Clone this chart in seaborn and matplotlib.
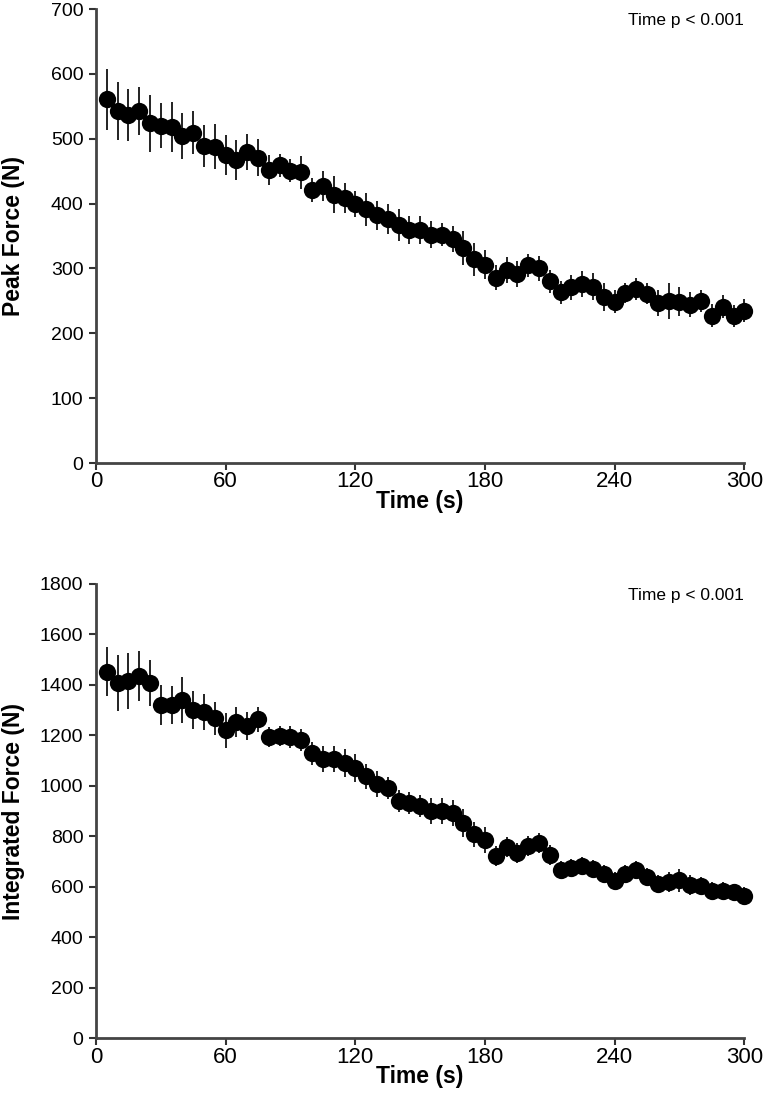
import matplotlib
matplotlib.use("Agg")
import matplotlib.pyplot as plt
import numpy as np
import pandas as pd
import seaborn as sns

# time points (s)
time_s = list(range(5, 305, 5))

# Peak force (N), mean and error
peak_force = [561, 543, 536, 543, 524, 520, 518, 504, 509, 489,
              488, 475, 467, 480, 471, 452, 459, 451, 448, 421,
              427, 414, 408, 400, 391, 382, 376, 367, 359, 359,
              352, 352, 345, 331, 314, 306, 286, 297, 292, 305,
              300, 280, 263, 271, 276, 272, 256, 249, 262, 268,
              261, 247, 250, 249, 244, 250, 227, 241, 226, 235]
peak_err = [47, 45, 40, 37, 44, 35, 38, 36, 33, 32,
            34, 31, 31, 28, 28, 23, 18, 17, 25, 18,
            23, 29, 23, 20, 26, 22, 23, 24, 22, 22,
            21, 18, 20, 26, 25, 23, 19, 20, 20, 18,
            19, 18, 18, 19, 20, 21, 22, 18, 15, 17,
            16, 20, 28, 23, 19, 17, 18, 18, 17, 18]

# Integrated force (N), mean and error
int_force = [1451, 1407, 1415, 1434, 1407, 1320, 1320, 1340, 1300, 1292,
             1268, 1220, 1252, 1236, 1264, 1193, 1197, 1193, 1181, 1129,
             1106, 1106, 1090, 1070, 1038, 1007, 991, 940, 932, 920,
             900, 900, 892, 852, 808, 785, 721, 757, 733, 760,
             773, 725, 666, 674, 682, 670, 650, 622, 650, 666,
             638, 610, 618, 626, 606, 602, 582, 582, 578, 563]
int_err = [97, 110, 110, 100, 90, 80, 75, 90, 75, 70,
           65, 70, 60, 55, 50, 40, 40, 45, 45, 45,
           50, 50, 55, 55, 50, 50, 45, 45, 45, 45,
           50, 50, 50, 55, 50, 50, 40, 40, 40, 40,
           40, 40, 35, 35, 35, 35, 35, 35, 35, 35,
           35, 35, 40, 45, 40, 35, 35, 35, 35, 35]

x_ticks = [0, 60, 120, 180, 240, 300]
annot_text = "Time p < 0.001"

sns.set_theme(style="ticks")
plt.rcParams["font.family"] = ["Liberation Sans", "DejaVu Sans"]

fig = plt.figure(figsize=(7.63, 11.12), dpi=100)
ax_top = fig.add_axes([0.1258, 0.5836, 0.8497, 0.4083])
ax_bot = fig.add_axes([0.1258, 0.0663, 0.8497, 0.4087])

panels = [
    (ax_top, peak_force, peak_err, "Peak Force (N)", (0, 700), 100),
    (ax_bot, int_force, int_err, "Integrated Force (N)", (0, 1800), 200),
]

for ax, vals, errs, ylab, ylim, step in panels:
    df = pd.DataFrame({"time": time_s, "force": vals, "err": errs})
    ax.errorbar(df["time"], df["force"], yerr=df["err"], fmt="none",
                ecolor="#111111", elinewidth=1.3, capsize=0, zorder=2, clip_on=False)
    sns.scatterplot(data=df, x="time", y="force", ax=ax, color="black", s=155,
                    edgecolor="black", linewidth=0, zorder=3, clip_on=False)
    ax.set_xlim(0, 300)
    ax.set_ylim(*ylim)
    ax.set_xticks(x_ticks)
    ax.set_yticks(np.arange(ylim[0], ylim[1] + 1, step))
    ax.set_xlabel("Time (s)", fontsize=16.5, fontweight="bold", color="black",
                  family=["Liberation Sans Narrow", "Liberation Sans"], labelpad=-2)
    ax.set_ylabel(ylab, fontsize=16.5, fontweight="bold", color="black")
    ax.yaxis.set_label_coords(-0.11, 0.5)
    for lab in ax.get_xticklabels():
        lab.set_family(["Liberation Sans Narrow", "Liberation Sans"])
        lab.set_fontsize(16)
    for lab in ax.get_yticklabels():
        lab.set_fontsize(14)
    ax.tick_params(axis="both", direction="out", length=5, width=1.5, colors="#333333",
                   labelcolor="black", pad=4)
    ax.tick_params(axis="x", pad=1)
    for side in ["top", "right"]:
        ax.spines[side].set_visible(False)
    for side in ["left", "bottom"]:
        ax.spines[side].set_linewidth(2)
        ax.spines[side].set_color("#444444")
    ax.text(1.0, 0.975, annot_text, transform=ax.transAxes, ha="right", va="center",
            fontsize=12.5, color="black")
    ax.grid(False)

fig.savefig("out.png", dpi=100)
